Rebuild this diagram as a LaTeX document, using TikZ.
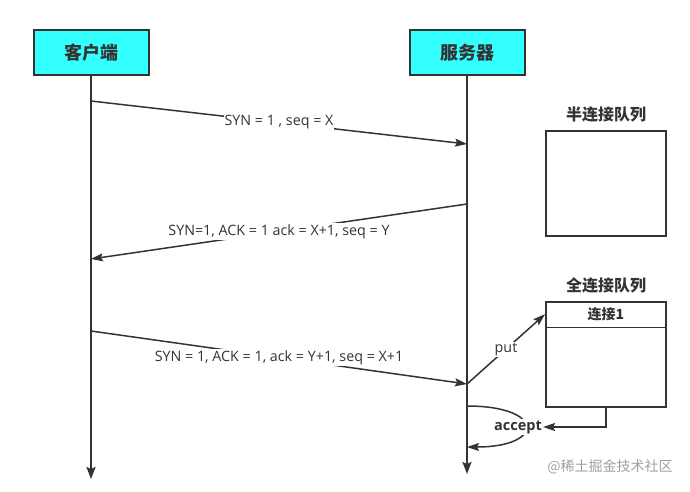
\documentclass[tikz,border=0pt]{standalone}
\usepackage{fontspec}
\setmainfont{Noto Sans CJK SC}
\newfontfamily\labelfont{Open Sans}
\usetikzlibrary{arrows.meta,positioning}
\definecolor{headcyan}{HTML}{33FFFF}
\definecolor{inkgray}{HTML}{333333}
\definecolor{markgray}{HTML}{A0A0A0}
\tikzset{
  head/.style={draw=inkgray,line width=2pt,fill=headcyan,minimum width=115pt,minimum height=45pt,
    font=\fontsize{18}{20}\selectfont\bfseries,text=inkgray},
  life/.style={draw=inkgray,line width=2pt,-{Stealth[length=12pt,width=9pt,inset=2pt]}},
  msg/.style={draw=inkgray,line width=1.5pt,-{Stealth[length=12pt,width=8pt,inset=2pt]}},
  msglabel/.style={fill=white,inner sep=1pt,font=\labelfont\fontsize{14.3}{16}\selectfont,text=inkgray},
  qtitle/.style={font=\fontsize{16}{18}\selectfont\bfseries,text=inkgray},
  qbox/.style={draw=inkgray,line width=2pt,minimum width=120pt,minimum height=105pt}
}
\begin{document}
\begin{tikzpicture}[x=1pt,y=-1pt]
        \useasboundingbox (0,0) rectangle (690,491);

        %% CLIENT AND SERVER
        \node[head] (client) at (91,52.5) {客户端};
        \node[head] (server) at (467,52.5) {服务器};
        % Lifelines
        \coordinate (clientend) at (91,479);
        \coordinate (serverend) at (467,474);
        \draw[life] (client.south) -- (clientend);
        \draw[life] (server.south) -- (serverend);

        %% HANDSHAKE
        \coordinate (c1) at (91,101);
        \coordinate (s1) at (467,144);
        \coordinate (s2) at (467,204);
        \coordinate (c2) at (91,259);
        \coordinate (c3) at (91,331);
        \coordinate (s3) at (467,384);
        % SYN
        \draw[msg] (c1) -- node[msglabel] (syn) {SYN = 1 , seq = X} (s1);
        % SYN + ACK
        \draw[msg] (s2) -- node[msglabel] (synack) {SYN=1, ACK = 1 ack = X+1, seq = Y} (c2);
        % ACK
        \draw[msg] (c3) -- node[msglabel] (ack) {SYN = 1, ACK = 1, ack = Y+1, seq = X+1} (s3);

        %% HALF QUEUE
        \node[qbox] (halfq) at (606,183.5) {};
        \node[qtitle,above=4pt of halfq] (halftitle) {半连接队列};

        %% FULL QUEUE
        \node[qbox] (fullq) at (606,354.5) {};
        \node[qtitle,above=4pt of fullq] (fulltitle) {全连接队列};
        \node[anchor=north,minimum width=120pt,minimum height=26pt,font=\fontsize{14}{16}\selectfont\bfseries,text=inkgray] (conn) at (fullq.north) {连接1};
        \draw[draw=inkgray,line width=1.5pt] (conn.south west) -- (conn.south east);
        % Put
        \draw[msg] (s3) -- node[msglabel,pos=0.5] (put) {put} (fullq.west |- conn.west);

        %% ACCEPT
        \coordinate (acc1) at (467,406);
        \coordinate (acc2) at (467,447);
        \draw[msg] (acc1) .. controls (545,406) and (545,447) .. (acc2);
        \node[fill=white,inner sep=1pt,font=\labelfont\fontsize{14.5}{16}\selectfont\bfseries,text=inkgray] (accept) at (518,427) {accept};
        \draw[msg] (fullq.south) |- (accept.east);

        % Watermark
        \node[font=\fontsize{14}{16}\selectfont,text=markgray] (mark) at (610,467) {@稀土掘金技术社区};
\end{tikzpicture}
\end{document}
